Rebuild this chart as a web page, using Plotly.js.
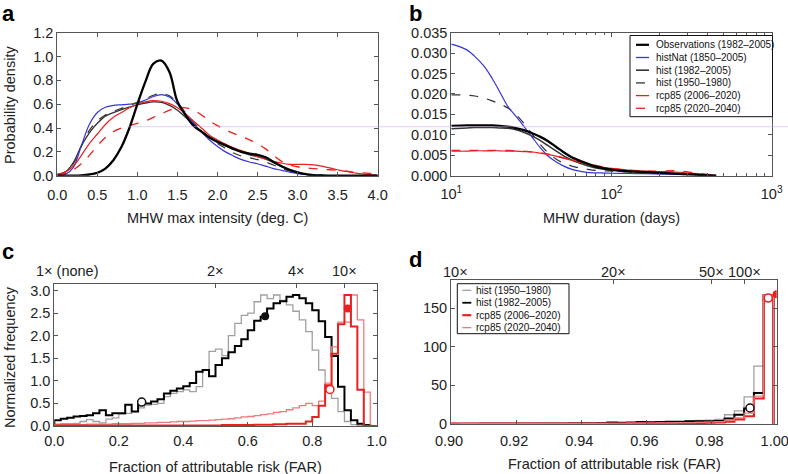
<!DOCTYPE html>
<html><head><meta charset="utf-8">
<script src="https://cdn.plot.ly/plotly-3.0.1.min.js"></script>
<style>body{margin:0;padding:0;background:#fff}#chart{width:788px;height:474px}</style>
</head><body><div id="chart"></div>
<script>
// ---------- Panel a: MHW max intensity KDEs ----------
const aX = [0.0,0.1,0.2,0.3,0.4,0.5,0.6,0.7,0.8,0.9,1.0,1.1,1.2,1.3,1.4,1.5,1.6,1.7,1.8,1.9,2.0,2.1,2.2,2.3,2.4,2.5,2.6,2.7,2.8,2.9,3.0,3.1,3.2,3.3,3.4,3.5,3.6,3.7,3.8,3.9,4.0];
const aObs    = [0,0,0,0.003,0.01,0.025,0.06,0.13,0.24,0.4,0.6,0.79,0.94,0.965,0.87,0.62,0.51,0.42,0.37,0.32,0.285,0.255,0.225,0.2,0.185,0.175,0.155,0.115,0.08,0.05,0.028,0.013,0.005,0.002,0,0,0,0,0,0,0];
const aNat    = [0,0.01,0.07,0.25,0.43,0.53,0.575,0.59,0.595,0.6,0.61,0.635,0.665,0.68,0.66,0.6,0.52,0.44,0.365,0.3,0.245,0.2,0.165,0.135,0.115,0.1,0.08,0.06,0.045,0.03,0.018,0.01,0.005,0.002,0,0,0,0,0,0,0];
const aHist82 = [0.01,0.03,0.11,0.25,0.36,0.44,0.5,0.53,0.555,0.575,0.595,0.61,0.62,0.615,0.59,0.55,0.49,0.43,0.37,0.32,0.28,0.25,0.22,0.195,0.175,0.16,0.14,0.11,0.075,0.045,0.025,0.012,0.005,0.002,0,0,0,0,0,0,0];
const aHist50 = [0.01,0.03,0.1,0.25,0.38,0.46,0.51,0.54,0.565,0.59,0.615,0.645,0.675,0.69,0.67,0.61,0.53,0.45,0.38,0.32,0.27,0.23,0.19,0.165,0.15,0.135,0.115,0.09,0.06,0.04,0.022,0.01,0.004,0,0,0,0,0,0,0,0];
const aRcp06  = [0.01,0.03,0.08,0.17,0.27,0.35,0.43,0.49,0.53,0.57,0.6,0.62,0.63,0.625,0.605,0.57,0.52,0.46,0.4,0.34,0.3,0.265,0.235,0.21,0.185,0.16,0.14,0.12,0.105,0.095,0.095,0.095,0.09,0.08,0.065,0.05,0.035,0.025,0.015,0.01,0.005];
const aRcp20  = [0.01,0.02,0.05,0.1,0.17,0.25,0.32,0.37,0.4,0.42,0.44,0.46,0.49,0.52,0.55,0.57,0.57,0.55,0.51,0.46,0.42,0.385,0.355,0.33,0.3,0.27,0.225,0.17,0.12,0.09,0.075,0.065,0.06,0.055,0.05,0.045,0.04,0.03,0.025,0.02,0.015];
const aObsMax = 3.13, aRcpMax = 3.75;

// ---------- Panel b: MHW duration KDEs ----------
const bD      = [10,12.5,14,16,18,20,22.5,25,28,32,36,40,45,50,56,63,70,80,90,100,125,160,200,250,320,400,450];
const bObs    = [0.0122,0.0123,0.0123,0.0123,0.0123,0.0122,0.0120,0.0117,0.0112,0.0104,0.0095,0.0085,0.0071,0.0058,0.0046,0.0037,0.0030,0.0022,0.0018,0.0015,0.0011,0.0009,0.0007,0.0005,0.0003,0.0001,0];
const bNat    = [0.0322,0.0308,0.0292,0.0268,0.0238,0.0206,0.0170,0.0148,0.0124,0.0094,0.0068,0.0049,0.0034,0.0024,0.0016,0.0011,0.0008,0.0007,0.00065,0.0006,0.00055,0.0005,0.0004,0.0003,0.0002,0.0001,0];
const bHist82 = [0.0115,0.0117,0.0118,0.0118,0.0118,0.0117,0.0116,0.0113,0.0107,0.0097,0.0086,0.0074,0.0061,0.0049,0.0039,0.0031,0.0025,0.0019,0.0016,0.0014,0.0011,0.0009,0.0007,0.0005,0.0003,0.0001,0];
const bHist50 = [0.0198,0.0197,0.0195,0.0190,0.0183,0.0176,0.0166,0.0152,0.0131,0.0102,0.0076,0.0057,0.0041,0.0031,0.0024,0.0019,0.0016,0.0013,0.0012,0.0011,0.0009,0.0008,0.0007,0.0005,0.0003,0.0001,0];
const bRcp06  = [0.0060,0.0060,0.0061,0.0061,0.0061,0.0061,0.0060,0.0060,0.0059,0.0058,0.0055,0.0052,0.0048,0.0043,0.0038,0.0033,0.0029,0.0024,0.0020,0.0018,0.0014,0.0011,0.0010,0.0009,0.0006,0.0002,0.0001];
const bRcp20  = [0.0062,0.0062,0.0062,0.0062,0.0062,0.0062,0.0062,0.0061,0.0060,0.0058,0.0056,0.0053,0.0049,0.0044,0.0039,0.0034,0.0030,0.0025,0.0021,0.0018,0.0014,0.0012,0.0011,0.0012,0.0008,0.0003,0.0001];
const bObsMax = 455, bRcpMax = 495;
const bTickVals = [10,100,1000];
const bTickText = ['10<sup>1</sup>','10<sup>2</sup>','10<sup>3</sup>'];
const bMinor = [20,30,40,50,60,70,80,90,200,300,400,500,600,700,800,900];
const bLegend = ['Observations (1982–2005)','histNat (1850–2005)','hist (1982–2005)','hist (1950–1980)','rcp85 (2006–2020)','rcp85 (2020–2040)'];

// ---------- Panel c: FAR histograms (bins of 0.02 from 0) ----------
const cBinStart = 0, cBinWidth = 0.02;
const cGray  = [0.04,0.05,0.05,0.06,0.1,0.14,0.1,0.07,0.15,0.18,0.27,0.28,0.32,0.4,0.46,0.48,0.5,0.65,0.72,0.76,0.8,0.76,0.87,1.25,1.65,1.7,1.56,2.0,2.27,2.45,2.5,2.75,2.9,2.82,2.9,2.78,2.68,2.54,2.35,2.09,1.68,1.24,0.87,0.61,0.32,0.1,0.03,0.01,0,0];
const cBlack = [0.13,0.16,0.18,0.21,0.22,0.24,0.28,0.35,0.24,0.28,0.28,0.47,0.32,0.54,0.5,0.54,0.59,0.72,0.78,0.83,0.88,0.95,1.2,1.24,1.1,1.35,1.5,1.63,1.77,1.92,2.12,2.33,2.42,2.6,2.72,2.76,2.86,2.9,2.83,2.72,2.56,2.32,1.97,1.55,0.87,0.35,0.13,0.05,0.02,0];
const cRedThick = [0.01,0.01,0.01,0.01,0.01,0.01,0.01,0.01,0.01,0.01,0.01,0.01,0.01,0.01,0.01,0.01,0.01,0.01,0.01,0.01,0.01,0.01,0.01,0.01,0.01,0.01,0.02,0.02,0.02,0.02,0.02,0.03,0.03,0.03,0.04,0.04,0.05,0.05,0.05,0.1,0.2,0.45,0.9,1.6,2.25,2.9,2.2,0.8,0,0];
const cRedThin  = [0.03,0.03,0.03,0.03,0.03,0.04,0.04,0.04,0.04,0.05,0.05,0.05,0.06,0.06,0.07,0.07,0.08,0.08,0.09,0.1,0.1,0.11,0.12,0.12,0.13,0.14,0.15,0.16,0.18,0.2,0.21,0.23,0.25,0.27,0.3,0.32,0.36,0.4,0.45,0.5,0.45,0.55,0.95,1.75,2.3,2.3,2.9,2.35,0.75,0];
const cOpenX = [0.271,0.855], cOpenY = [0.53,0.81];
const cFillX = [0.654,0.91],  cFillY = [2.43,2.6];
const cTopVals = [0,0.5,0.75,0.9];
const cTopText = ['1× (none)','2×','4×','10×'];

// ---------- Panel d: FAR histograms zoom (bins of 0.003 from 0.9) ----------
const dBinStart = 0.9, dBinWidth = 0.003;
const dGray  = [0.3,0.3,0.4,0.4,0.5,0.5,0.5,0.6,0.6,0.7,0.7,0.8,0.9,1.0,1.0,1.2,1.3,1.5,1.6,1.8,2.0,2.4,2.8,3.2,3.8,4.5,5,6,12,17,35,75,167];
const dBlack = [0.4,0.4,0.4,0.5,0.5,0.5,0.6,0.6,0.7,0.7,0.8,0.8,0.9,1.0,1.1,1.3,1.8,1.5,1.8,2.5,2.2,2.5,3.0,3.0,3.5,3.5,3.5,4,7,12,20,40,167];
const dRedThick = [0.5,0.5,0.5,0.5,0.5,0.4,0.4,0.4,0.4,0.4,0.4,0.5,0.5,0.5,0.5,0.5,0.6,0.6,0.7,0.8,0.9,1.0,1.0,1.2,1.3,1.5,1.8,2,3,6,10,33,167];
const dRedThin  = [1.0,0.9,0.9,0.9,0.8,0.8,0.8,0.8,0.8,0.8,0.8,0.8,0.8,0.9,0.9,0.9,1.0,1.0,1.1,1.2,1.3,1.4,1.5,1.7,1.9,2.2,2.6,3,5,8,14,36,167];
const dOpenX = [0.9918,0.9974], dOpenY = [20.7,163], dOpenColor = ['#111','#e8201f'];
const dFillX = [1.0], dFillY = [168];
const dTickVals = [0.90,0.92,0.94,0.96,0.98,1.00];
const dTopVals = [0.9,0.95,0.98,0.99];
const dTopText = ['10×','20×','50×','100×'];
const dLegend = ['hist (1950–1980)','hist (1982–2005)','rcp85 (2006–2020)','rcp85 (2020–2040)'];

const axisTitles = ['MHW max intensity (deg. C)','Probability density','MHW duration (days)','Fraction of attributable risk (FAR)','Normalized frequency','Fraction of attributable risk (FAR)'];
const panelLetters = ['a','b','c','d'];

// ---------- helpers ----------
const W = 788, H = 474;
const px = x => x / W, py = y => 1 - y / H;
const FONT = 'Liberation Sans, Arial, Helvetica, sans-serif';
const BLUE = '#3535d8', RED = '#e8201f', LRED = '#f07a7a', DARK = '#333', GRAY = '#a0a0a0';

function stepXY(start, width, vals) {
  const x = [], y = [];
  const n = vals.length;
  x.push(start); y.push(0);
  for (let i = 0; i < n; i++) { x.push(start + i * width); y.push(vals[i]); }
  x.push(start + n * width); y.push(vals[n - 1]);
  x.push(start + n * width); y.push(0);
  return {x, y};
}

const traces = [];
function line(xa, ya, x, y, color, width, dash, shape) {
  traces.push({type:'scatter', mode:'lines', x, y, xaxis:xa, yaxis:ya, showlegend:false, hoverinfo:'skip',
    line:{color, width, dash: dash || 'solid', shape: shape || 'spline', smoothing: 1}});
}
// Panel a
line('x','y',aX,aHist50,DARK,1.2,'dash');
line('x','y',aX,aHist82,DARK,1.3);
line('x','y',aX,aNat,BLUE,1.2);
line('x','y',aX,aRcp20,RED,1.3,'dash');
line('x','y',aX,aRcp06,RED,1.2);
line('x','y',aX,aObs,'#000',2.3);
traces.push({type:'scatter', mode:'markers', x:[aObsMax, aRcpMax], y:[-0.02,-0.02], xaxis:'x', yaxis:'y', cliponaxis:false, showlegend:false,
  marker:{symbol:'triangle-up', size:10, color:['#111','#f06262'], line:{color:['#000','#b01010'], width:1}}});
// Panel b
line('x2','y2',bD,bHist50,DARK,1.2,'dash');
line('x2','y2',bD,bHist82,DARK,1.5);
line('x2','y2',bD,bNat,BLUE,1.2);
line('x2','y2',bD,bRcp20,RED,1.3,'dash');
line('x2','y2',bD,bRcp06,RED,1.2);
line('x2','y2',bD,bObs,'#000',2.3);
traces.push({type:'scatter', mode:'markers', x:[bObsMax, bRcpMax], y:[-0.0006,-0.0006], xaxis:'x2', yaxis:'y2', cliponaxis:false, showlegend:false,
  marker:{symbol:'triangle-up', size:10, color:['#111','#f06262'], line:{color:['#000','#b01010'], width:1}}});
// Panel c
let s;
s = stepXY(cBinStart, cBinWidth, cGray);     line('x3','y3',s.x,s.y,GRAY,1.3,'solid','hv');
s = stepXY(cBinStart, cBinWidth, cBlack);    line('x3','y3',s.x,s.y,'#000',2.0,'solid','hv');
s = stepXY(cBinStart, cBinWidth, cRedThin);  line('x3','y3',s.x,s.y,LRED,1.3,'solid','hv');
s = stepXY(cBinStart, cBinWidth, cRedThick); line('x3','y3',s.x,s.y,RED,2.0,'solid','hv');
traces.push({type:'scatter', mode:'markers', x:cOpenX, y:cOpenY, xaxis:'x3', yaxis:'y3', showlegend:false,
  marker:{symbol:'circle', size:8, color:'#fff', line:{color:['#111',RED], width:1.5}}});
traces.push({type:'scatter', mode:'markers', x:cFillX, y:cFillY, xaxis:'x3', yaxis:'y3', showlegend:false,
  marker:{symbol:'circle', size:8, color:['#111',RED], line:{width:0}}});
// Panel d
s = stepXY(dBinStart, dBinWidth, dGray);     line('x4','y4',s.x,s.y,GRAY,1.3,'solid','hv');
s = stepXY(dBinStart, dBinWidth, dBlack);    line('x4','y4',s.x,s.y,'#000',2.0,'solid','hv');
s = stepXY(dBinStart, dBinWidth, dRedThick); line('x4','y4',s.x,s.y,RED,2.2,'solid','hv');
s = stepXY(dBinStart, dBinWidth, dRedThin);  line('x4','y4',s.x,s.y,LRED,1.2,'solid','hv');
traces.push({type:'scatter', mode:'markers', x:dOpenX, y:dOpenY, xaxis:'x4', yaxis:'y4', showlegend:false,
  marker:{symbol:'circle', size:8, color:'#fff', line:{color:dOpenColor, width:1.5}}});
traces.push({type:'scatter', mode:'markers', x:dFillX, y:dFillY, xaxis:'x4', yaxis:'y4', showlegend:false, cliponaxis:true,
  marker:{symbol:'circle', size:8, color:RED}});
// invisible traces to activate top overlay axes
traces.push({type:'scatter', mode:'markers', x:[0.5], y:[0], xaxis:'x5', yaxis:'y3', showlegend:false, marker:{opacity:0}, hoverinfo:'skip'});
traces.push({type:'scatter', mode:'markers', x:[0.95], y:[0], xaxis:'x6', yaxis:'y4', showlegend:false, marker:{opacity:0}, hoverinfo:'skip'});

const tickFont = {family:FONT, size:14.5, color:'#222'};
const baseAx = {showgrid:false, zeroline:false, showline:true, linecolor:'#555', linewidth:1, ticks:'inside', ticklen:4, tickcolor:'#555', tickfont:tickFont, mirror:'ticks'};

const layout = {
  width:W, height:H, margin:{l:0,r:0,t:0,b:0}, paper_bgcolor:'#fff', plot_bgcolor:'#fff', showlegend:false,
  font:{family:FONT, color:'#222'},
  xaxis: Object.assign({}, baseAx, {domain:[px(57.3),px(377.7)], range:[0,4], dtick:0.5, tick0:0, tickformat:'.1f', anchor:'y', ticklabelstandoff:6}),
  yaxis: Object.assign({}, baseAx, {domain:[py(175.7),py(32.7)], range:[0,1.2], dtick:0.2, tickformat:'.1f', anchor:'x'}),
  xaxis2: Object.assign({}, baseAx, {domain:[px(451.3),px(771.7)], type:'log', range:[1,3], tickmode:'array', tickvals:bTickVals, ticktext:bTickText, anchor:'y2', ticklabelstandoff:5, ticklabeloverflow:'allow',
    minor:{tickmode:'array', tickvals:bMinor, ticks:'inside', ticklen:2.5, tickcolor:'#555'}}),
  yaxis2: Object.assign({}, baseAx, {domain:[py(175.7),py(32.7)], range:[0,0.035], dtick:0.005, tickformat:'.3f', anchor:'x2'}),
  xaxis3: Object.assign({}, baseAx, {domain:[px(54.3),px(376.7)], range:[0,1], dtick:0.2, tickformat:'.1f', anchor:'y3', mirror:true, ticklabelstandoff:2}),
  yaxis3: Object.assign({}, baseAx, {domain:[py(426),py(283.7)], range:[0,3.15], dtick:0.5, tickformat:'.1f', anchor:'x3'}),
  xaxis4: Object.assign({}, baseAx, {domain:[px(451),px(776.7)], range:[0.9,1.0], tickmode:'array', tickvals:dTickVals, tickformat:'.2f', anchor:'y4', mirror:true, ticklabelstandoff:4, ticklabelshift:-2, ticklabeloverflow:'allow'}),
  yaxis4: Object.assign({}, baseAx, {domain:[py(424),py(280.3)], range:[0,186], tickmode:'array', tickvals:[0,50,100,150], anchor:'x4'}),
  xaxis5: {overlaying:'x3', side:'top', anchor:'y3', range:[0,1], tickmode:'array', tickvals:cTopVals, showticklabels:false, ticks:'inside', ticklen:4, tickcolor:'#555', showgrid:false, zeroline:false, showline:false},
  xaxis6: {overlaying:'x4', side:'top', anchor:'y4', range:[0.9,1.0], tickmode:'array', tickvals:dTopVals, showticklabels:false, ticks:'inside', ticklen:4, tickcolor:'#555', showgrid:false, zeroline:false, showline:false},
  shapes: [], annotations: []
};

// faint horizontal artifact line
layout.shapes.push({type:'line', xref:'paper', yref:'paper', x0:px(127), x1:1, y0:py(126.7), y1:py(126.7), line:{color:'rgba(205,165,235,0.55)', width:1}, layer:'above'});

// Legend b (manual)
const bStyles = [
  {color:'#000', width:2.2, dash:'solid'}, {color:BLUE, width:1.3, dash:'solid'}, {color:DARK, width:1.6, dash:'solid'},
  {color:DARK, width:1.3, dash:'dash'}, {color:RED, width:1.3, dash:'solid'}, {color:RED, width:1.3, dash:'dash'}];
layout.shapes.push({type:'rect', xref:'paper', yref:'paper', x0:px(630), x1:px(772.5), y0:py(116.7), y1:py(35.5), line:{color:'#111', width:1}, fillcolor:'#fff', layer:'above'});
bLegend.forEach((t,i) => {
  const yy = 44.8 + 12.7*i;
  layout.shapes.push({type:'line', xref:'paper', yref:'paper', x0:px(636), x1:px(649), y0:py(yy), y1:py(yy), line:bStyles[i], layer:'above'});
  layout.annotations.push({xref:'paper', yref:'paper', x:px(653.5), y:py(yy), text:t, showarrow:false, xanchor:'left', yanchor:'middle', font:{family:FONT, size:10, color:'#111'}});
});
// Legend d (manual)
const dStyles = [{color:GRAY, width:1.3}, {color:'#000', width:1.8}, {color:RED, width:2.2}, {color:LRED, width:1.3}];
layout.shapes.push({type:'rect', xref:'paper', yref:'paper', x0:px(457.3), x1:px(569), y0:py(333.7), y1:py(283.7), line:{color:'#111', width:1}, fillcolor:'#fff', layer:'above'});
dLegend.forEach((t,i) => {
  const yy = 290.3 + 12.45*i;
  layout.shapes.push({type:'line', xref:'paper', yref:'paper', x0:px(462.3), x1:px(471.3), y0:py(yy), y1:py(yy), line:dStyles[i], layer:'above'});
  layout.annotations.push({xref:'paper', yref:'paper', x:px(474), y:py(yy), text:t, showarrow:false, xanchor:'left', yanchor:'middle', font:{family:FONT, size:10, color:'#111'}});
});

// Top labels for c and d
cTopText.forEach((t,i) => {
  layout.annotations.push({xref:'x3', yref:'paper', x:cTopVals[i], y:py(271), text:t, showarrow:false, xanchor:'center', yanchor:'middle', xshift: i===0 ? 13 : 0, font:tickFont});
});
dTopText.forEach((t,i) => {
  layout.annotations.push({xref:'x4', yref:'paper', x:dTopVals[i], y:py(271.5), text:t, showarrow:false, xanchor:'center', yanchor:'middle', xshift: i===0 ? 4 : 0, font:tickFont});
});

// Axis titles
const titleFont = {family:FONT, size:14.5, color:'#222'};
const titlePos = [
  {x:217.5, y:218.3, rot:0}, {x:10, y:105, rot:-90}, {x:611.5, y:218.3, rot:0},
  {x:215.5, y:467, rot:0}, {x:10, y:357, rot:-90}, {x:614.5, y:463.7, rot:0}];
axisTitles.forEach((t,i) => {
  layout.annotations.push({xref:'paper', yref:'paper', x:px(titlePos[i].x), y:py(titlePos[i].y), text:t, showarrow:false, xanchor:'center', yanchor:'middle', textangle:titlePos[i].rot, font:titleFont});
});
// Panel letters
const letterPos = [{x:8.5,y:14},{x:415.5,y:13},{x:7.5,y:252},{x:415.5,y:259}];
panelLetters.forEach((t,i) => {
  layout.annotations.push({xref:'paper', yref:'paper', x:px(letterPos[i].x), y:py(letterPos[i].y), text:'<b>'+t+'</b>', showarrow:false, xanchor:'center', yanchor:'middle', font:{family:FONT, size:22, color:'#000'}});
});

Plotly.newPlot('chart', traces, layout, {staticPlot:true, displayModeBar:false});
</script></body></html>
